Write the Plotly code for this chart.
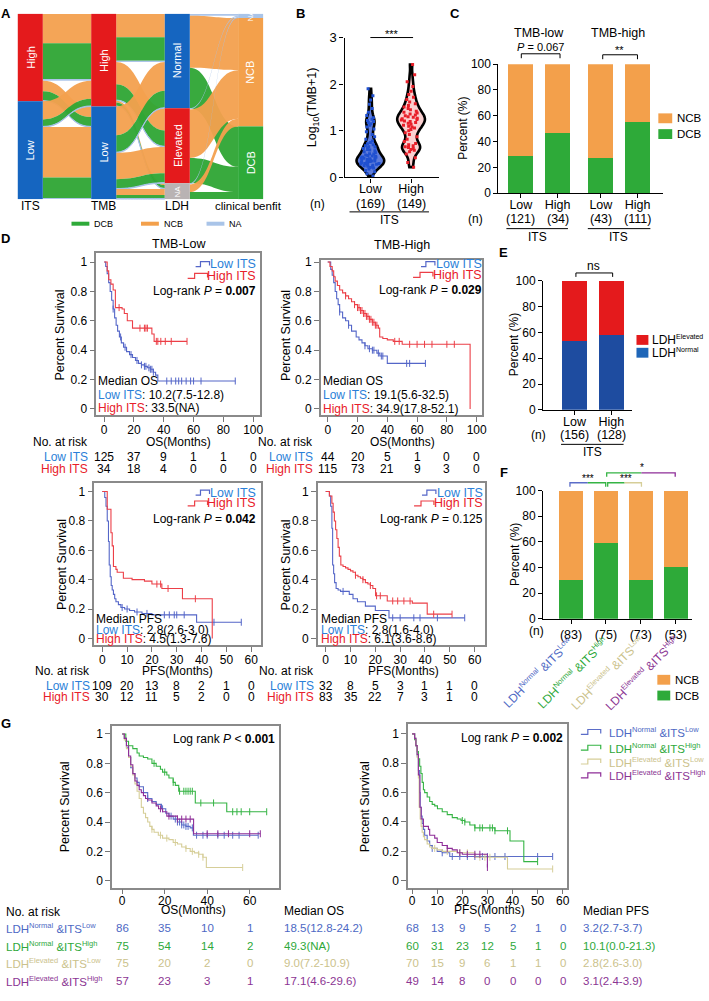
import plotly.graph_objects as go

W, H = 709, 1001
FONT = "Liberation Sans, Arial, Helvetica, sans-serif"


def X(px):
    return px / W


def Y(py):
    return 1 - py / H


def sup(s, size=7.5):
    return f"<sup><span style='font-size:{size}px'>{s}</span></sup>"


# ---------------- colours ----------------
GREEN = "#2EAA39"
ORANGE = "#F3A04B"
NA_BLUE = "#A9C4E8"
RED = "#E41A1C"
BLUE = "#1565C0"
E_BLUE = "#1E4CA0"
LOW_LINE = "#5466C8"
LOW_TXT = "#2B7FD8"
HIGH_LINE = "#EC3F47"
HIGH_TXT = "#E8202A"
G_COL = {"NL": "#5B6DC8", "NH": "#35B444", "EL": "#D6CE98", "EH": "#8E2E98"}
G_TXT = {"NL": "#4D68C4", "NH": "#2EA83A", "EL": "#CBC28C", "EH": "#8B3593"}

# ================= DATA =================
# ---- A: alluvial counts ----
its_nodes = ["High", "Low"]
tmb_nodes = ["High", "Low"]
ldh_nodes = ["Normal", "Elevated", "NA"]
cb_nodes = ["NA", "NCB", "DCB"]
its_tmb_src = ["High", "High", "Low", "Low"]
its_tmb_dst = ["High", "Low", "High", "Low"]
its_tmb_dcb = [61, 16, 12, 35]
its_tmb_ncb = [50, 18, 31, 86]
its_tmb_na = [3, 1, 1, 2]
tmb_ldh_src = ["High", "High", "High", "Low", "Low", "Low"]
tmb_ldh_dst = ["Normal", "Elevated", "NA", "Normal", "Elevated", "NA"]
tmb_ldh_dcb = [40, 27, 6, 29, 16, 6]
tmb_ldh_ncb = [40, 38, 3, 49, 45, 10]
tmb_ldh_na = [2, 1, 1, 1, 1, 1]

# ---- B: log10(TMB+1) by ITS ----
b_groups = ["Low", "High"]
b_n = [169, 149]
b_low_vals = [0.03, 0.08, 0.12, 0.15, 0.18, 0.2, 0.21, 0.23, 0.24, 0.25, 0.26, 0.27, 0.28, 0.29,
              0.3, 0.3, 0.31, 0.32, 0.33, 0.34, 0.35, 0.35, 0.36, 0.37, 0.38, 0.39, 0.4, 0.4, 0.41,
              0.42, 0.43, 0.44, 0.45, 0.46, 0.47, 0.48, 0.5, 0.51, 0.53, 0.55, 0.57, 0.59, 0.6, 0.62,
              0.63, 0.65, 0.66, 0.68, 0.7, 0.72, 0.75, 0.78, 0.82, 0.87, 0.92, 0.98, 1.04, 1.08, 1.12,
              1.15, 1.18, 1.2, 1.22, 1.25, 1.28, 1.33, 1.4, 1.48, 1.57, 1.66, 1.75, 1.9]
b_high_vals = [0.22, 0.32, 0.42, 0.5, 0.55, 0.58, 0.6, 0.62, 0.64, 0.66, 0.68, 0.7, 0.73, 0.77, 0.82,
               0.87, 0.92, 0.96, 1.0, 1.03, 1.06, 1.08, 1.1, 1.12, 1.14, 1.16, 1.18, 1.2, 1.21, 1.23,
               1.24, 1.26, 1.27, 1.29, 1.3, 1.32, 1.34, 1.36, 1.38, 1.4, 1.42, 1.45, 1.48, 1.51, 1.54,
               1.58, 1.62, 1.67, 1.72, 1.78, 1.85, 1.95, 2.05, 2.2, 2.42]

# ---- C: DCB % by TMB group and ITS ----
c_panel = ["TMB-low", "TMB-low", "TMB-high", "TMB-high"]
c_its = ["Low", "High", "Low", "High"]
c_n = [121, 34, 43, 111]
c_dcb = [29, 47, 27, 55]

# ---- E: LDH by ITS ----
e_its = ["Low", "High"]
e_n = [156, 128]
e_normal = [53, 58]

# ---- F: DCB % by LDH x ITS ----
f_keys = ["NL", "NH", "EL", "EH"]
f_ldh = ["Normal", "Normal", "Elevated", "Elevated"]
f_itsl = ["Low", "High", "Low", "High"]
f_n = [83, 75, 73, 53]
f_dcb = [30, 59, 30, 40]

# ---- D: Kaplan-Meier curves ----
dtl_low_t = [0, 1, 2, 3, 4, 5, 6, 7, 8, 9, 10.2, 11.5, 13, 15, 17, 19, 21, 23, 25, 27, 29, 31, 33, 34.5, 36, 88]
dtl_low_s = [1, 0.97, 0.92, 0.86, 0.8, 0.74, 0.68, 0.62, 0.57, 0.53, 0.49, 0.45, 0.42, 0.39, 0.37, 0.35,
             0.33, 0.31, 0.3, 0.29, 0.28, 0.27, 0.25, 0.23, 0.19, 0.19]
dtl_low_c = [6, 11, 14, 18, 22, 25, 27, 28, 30, 31, 32, 33, 42, 45, 48, 50, 52, 55, 58, 60, 65, 88]
dtl_high_t = [0, 2, 3, 4.5, 6, 7.5, 12, 13.5, 15.5, 19, 32, 33.5, 55.6]
dtl_high_s = [1, 0.94, 0.88, 0.85, 0.81, 0.69, 0.68, 0.65, 0.6, 0.55, 0.51, 0.46, 0.46]
dtl_high_c = [10, 24, 27, 28, 29, 35, 36, 38, 41, 45, 55.6]

dtr_low_t = [0, 2, 3, 4, 5, 6, 7, 8, 10, 12, 14, 16, 19.1, 21, 23, 25, 27, 30, 33, 35, 40, 65.6]
dtr_low_s = [1, 0.95, 0.91, 0.86, 0.8, 0.75, 0.71, 0.66, 0.62, 0.6, 0.57, 0.53, 0.49, 0.47, 0.45, 0.43,
             0.41, 0.4, 0.38, 0.36, 0.31, 0.31]
dtr_low_c = [8, 14, 25, 28, 30, 31, 34, 36, 37, 53, 55, 65.6]
dtr_high_t = [0, 1.5, 3, 4, 5, 6.5, 8, 10, 12, 14, 16, 18, 20, 22, 24, 26, 28, 30, 32, 34, 34.9, 37, 40,
              44, 50, 95.6]
dtr_high_s = [1, 0.97, 0.94, 0.9, 0.87, 0.84, 0.81, 0.79, 0.77, 0.75, 0.73, 0.71, 0.69, 0.67, 0.65, 0.63,
              0.61, 0.59, 0.57, 0.55, 0.49, 0.48, 0.47, 0.46, 0.44, 0]
dtr_high_c = [12, 18, 20, 21, 22, 23, 24, 25, 26, 27, 28, 29, 30, 31, 32, 33, 45, 48, 55, 60, 65, 70, 80, 85]

dbl_low_t = [0, 1, 1.5, 2, 2.5, 2.8, 3.2, 3.6, 4, 4.5, 5, 5.5, 6.5, 7.5, 9, 11, 13, 16, 20, 38, 56]
dbl_low_s = [1, 0.96, 0.9, 0.8, 0.66, 0.5, 0.42, 0.36, 0.33, 0.3, 0.27, 0.25, 0.23, 0.21, 0.2, 0.19,
             0.18, 0.17, 0.16, 0.11, 0.11]
dbl_low_c = [8, 10, 14, 18, 25, 27, 29, 30, 33, 45, 56]
dbl_high_t = [0, 2, 3.5, 4, 4.5, 5.5, 6, 8.5, 12, 17, 20, 24, 32.3, 44.3]
dbl_high_s = [1, 0.88, 0.72, 0.63, 0.49, 0.47, 0.45, 0.41, 0.4, 0.39, 0.37, 0.34, 0.27, 0]
dbl_high_c = [22, 23.5, 26.5, 37.5]

dbr_low_t = [0, 1.5, 2, 2.5, 2.8, 3.2, 3.6, 4.2, 5, 6, 9.5, 11, 12.8, 16, 20, 25.5, 56]
dbr_low_s = [1, 0.97, 0.9, 0.75, 0.5, 0.44, 0.38, 0.34, 0.33, 0.32, 0.3, 0.27, 0.25, 0.22, 0.19, 0.14, 0.14]
dbr_low_c = [7, 27, 30, 35.5, 38, 45, 56]
dbr_high_t = [0, 1.5, 2.5, 3, 3.5, 4, 4.5, 5, 5.5, 6.1, 7, 8, 9, 10, 11, 12, 13, 14, 15, 16, 17, 18, 19,
              20.1, 24.8, 34.9, 40.9, 50.9]
dbr_high_s = [1, 0.97, 0.92, 0.86, 0.8, 0.74, 0.68, 0.62, 0.56, 0.5, 0.49, 0.48, 0.47, 0.46, 0.45, 0.43,
              0.42, 0.41, 0.4, 0.38, 0.37, 0.36, 0.34, 0.29, 0.255, 0.24, 0.165, 0.165]
dbr_high_c = [12, 15, 18, 20.5, 22, 27, 29, 31.5, 34, 43.5, 50.9]

d_tl_risk_low = [125, 37, 9, 1, 1, 0]
d_tl_risk_high = [34, 18, 4, 0, 0, 0]
d_tr_risk_low = [44, 20, 5, 1, 0, 0]
d_tr_risk_high = [115, 73, 21, 9, 3, 0]
d_bl_risk_low = [109, 20, 13, 8, 2, 1, 0]
d_bl_risk_high = [30, 12, 11, 5, 2, 0, 0]
d_br_risk_low = [32, 8, 5, 3, 1, 1, 0]
d_br_risk_high = [83, 35, 22, 7, 3, 1, 0]

# ---- G: Kaplan-Meier by LDH x ITS ----
g_os_t = {
    "NL": [0, 1, 2, 3, 4, 5, 6, 7, 8, 10, 12, 14, 16, 18.5, 20.5, 22, 24, 26, 28, 30, 32, 33.5, 64],
    "NH": [0, 1.7, 3, 5, 7, 8, 10, 12, 14, 16, 18, 19, 21, 22, 24, 25, 26.6, 34.4, 49.2, 68],
    "EL": [0, 1, 2, 3, 4, 5, 6, 7, 8, 9, 10, 11, 12, 13, 14, 15, 17, 19, 22, 24, 26, 28, 30, 32, 34, 36,
           38, 39.6, 56.7],
    "EH": [0, 1, 2, 3, 4, 5, 6, 7, 8, 9, 10, 11, 12, 14, 16, 17.1, 19, 21, 26, 33.6, 65],
}
g_os_s = {
    "NL": [1, 0.97, 0.91, 0.84, 0.77, 0.73, 0.7, 0.67, 0.64, 0.6, 0.56, 0.54, 0.52, 0.49, 0.46, 0.44, 0.42,
           0.4, 0.38, 0.37, 0.36, 0.31, 0.31],
    "NH": [1, 0.95, 0.92, 0.9, 0.87, 0.85, 0.84, 0.83, 0.8, 0.78, 0.76, 0.74, 0.72, 0.7, 0.67, 0.65, 0.61,
           0.53, 0.47, 0.47],
    "EL": [1, 0.96, 0.9, 0.84, 0.78, 0.72, 0.66, 0.61, 0.56, 0.5, 0.46, 0.43, 0.4, 0.37, 0.35, 0.33, 0.31,
           0.29, 0.28, 0.26, 0.25, 0.23, 0.22, 0.2, 0.19, 0.18, 0.16, 0.09, 0.09],
    "EH": [1, 0.97, 0.92, 0.85, 0.79, 0.73, 0.68, 0.65, 0.62, 0.6, 0.58, 0.56, 0.55, 0.53, 0.51, 0.49,
           0.47, 0.44, 0.42, 0.32, 0.32],
}
g_os_c = {
    "NL": [12, 19, 23, 25, 26, 27, 28, 29, 30, 31, 33, 35, 38, 40, 45, 48, 52, 55, 64],
    "NH": [15, 20, 24, 27, 29, 30, 31, 32, 33, 37, 43, 52, 54, 56, 60, 68],
    "EL": [14, 18, 21, 25, 30, 33, 36, 38, 56.7],
    "EH": [18, 22, 26, 28, 30, 32, 40, 45, 50, 60, 65],
}
g_pfs_t = {
    "NL": [0, 1, 1.5, 2, 2.5, 3, 3.2, 3.6, 4, 4.5, 5, 6, 7, 8, 10, 12, 15, 56],
    "NH": [0, 1, 1.5, 2, 2.5, 3, 3.5, 4, 4.5, 5, 6, 7, 8, 9, 10.1, 12, 14, 16, 18, 19.5, 21, 23, 25, 33,
           39, 44.5, 50],
    "EL": [0, 1, 1.5, 2, 2.5, 2.8, 3.2, 3.6, 4, 4.5, 5, 6, 7, 8, 10, 12, 18, 25, 38, 56],
    "EH": [0, 1, 1.5, 2, 2.5, 3.1, 3.6, 4.5, 6.5, 7, 9, 10, 12, 14, 16, 18, 20, 30],
}
g_pfs_s = {
    "NL": [1, 0.97, 0.92, 0.85, 0.75, 0.6, 0.5, 0.44, 0.39, 0.35, 0.31, 0.27, 0.24, 0.22, 0.2, 0.19,
           0.165, 0.165],
    "NH": [1, 0.96, 0.92, 0.88, 0.83, 0.78, 0.73, 0.67, 0.62, 0.6, 0.57, 0.54, 0.52, 0.51, 0.49, 0.47,
           0.45, 0.43, 0.42, 0.41, 0.4, 0.38, 0.36, 0.34, 0.27, 0.13, 0.13],
    "EL": [1, 0.97, 0.92, 0.84, 0.7, 0.5, 0.42, 0.37, 0.33, 0.3, 0.28, 0.25, 0.23, 0.22, 0.21, 0.2, 0.19,
           0.16, 0.08, 0.08],
    "EH": [1, 0.97, 0.92, 0.86, 0.72, 0.5, 0.42, 0.37, 0.35, 0.31, 0.29, 0.26, 0.24, 0.22, 0.21, 0.19,
           0.18, 0.09],
}
g_pfs_c = {
    "NL": [8, 12, 16, 19, 22, 25, 28, 30, 33, 37, 50, 56],
    "NH": [20, 21, 25, 27, 28, 31, 32, 33, 38, 50],
    "EL": [9, 14, 19, 22, 27, 29, 31, 56],
    "EH": [14, 19, 22, 25, 27, 30],
}
g_os_risk = {"NL": [86, 35, 10, 1], "NH": [75, 54, 14, 2], "EL": [75, 20, 2, 0], "EH": [57, 23, 3, 1]}
g_pfs_risk = {"NL": [68, 13, 9, 5, 2, 1, 0], "NH": [60, 31, 23, 12, 5, 1, 0],
              "EL": [70, 15, 9, 6, 1, 1, 0], "EH": [49, 14, 8, 0, 0, 0, 0]}
g_median_os = ["18.5(12.8-24.2)", "49.3(NA)", "9.0(7.2-10.9)", "17.1(4.6-29.6)"]
g_median_pfs = ["3.2(2.7-3.7)", "10.1(0.0-21.3)", "2.8(2.6-3.0)", "3.1(2.4-3.9)"]

f_labels = [f"LDH{sup(l)} &ITS{sup(i)}" for l, i in zip(f_ldh, f_itsl)]

# ================= FIGURE =================
fig = go.Figure()
ann = []
shapes = []
layout_axes = {}
AXSPEC = {}


def txt(x, y, s, size=12, color="black", xa="center", ya="middle", angle=0, xref="paper"):
    ann.append(dict(x=(X(x) if xref == "paper" else x), y=Y(y), xref=xref, yref="paper", text=s,
                    showarrow=False, xanchor=xa, yanchor=ya, textangle=angle, borderpad=0,
                    font=dict(family=FONT, size=size, color=color)))


def path(points, color="black", width=1.2):
    p = "M " + " L ".join(f"{X(a):.5f},{Y(b):.5f}" for a, b in points)
    shapes.append(dict(type="path", path=p, xref="paper", yref="paper", line=dict(color=color, width=width)))


def rect(x0, y0, x1, y1, color):
    shapes.append(dict(type="rect", xref="paper", yref="paper", x0=X(x0), x1=X(x1), y0=Y(y1), y1=Y(y0),
                       fillcolor=color, line=dict(width=0)))


def add_axes(k, xd, yd, xr, yr, km=False, xtv=None, xtt=None, ytv=None, ytt=None, xstand=0, xfs=12):
    s = "" if k == 1 else str(k)
    AXSPEC[k] = (xd, xr)
    common = dict(showgrid=False, zeroline=False, showline=True, ticks="outside", fixedrange=True,
                  tickfont=dict(family=FONT, size=12, color="black"))
    if km:
        common.update(linecolor="#8a8a8a", linewidth=1.5, mirror=True, tickcolor="#777777", ticklen=5,
                      tickwidth=1.2)
    else:
        common.update(linecolor="black", linewidth=1.3, tickcolor="black", ticklen=4, tickwidth=1.2)
    xa = dict(common, domain=[X(xd[0]), X(xd[1])], range=xr, anchor="y" + s,
              tickfont=dict(family=FONT, size=xfs, color="black"))
    if xstand:
        xa["ticklabelstandoff"] = xstand
    ya = dict(common, domain=[Y(yd[1]), Y(yd[0])], range=yr, anchor="x" + s)
    if xtv is not None:
        xa.update(tickmode="array", tickvals=xtv)
        if xtt is not None:
            xa["ticktext"] = xtt
    if ytv is not None:
        ya.update(tickmode="array", tickvals=ytv)
        if ytt is not None:
            ya["ticktext"] = ytt
    layout_axes["xaxis" + s] = xa
    layout_axes["yaxis" + s] = ya
    return "x" + s, "y" + s


def data_px(k, v):
    xd, xr = AXSPEC[k]
    return xd[0] + (v - xr[0]) / (xr[1] - xr[0]) * (xd[1] - xd[0])


def surv_at(ts, ss, t):
    v = ss[0]
    for ti, si in zip(ts, ss):
        if ti <= t:
            v = si
        else:
            break
    return v


def km(ts, ss, cens, color, xa, ya):
    fig.add_trace(go.Scatter(x=ts, y=ss, mode="lines", line=dict(shape="hv", color=color, width=1.1),
                             xaxis=xa, yaxis=ya, hoverinfo="skip", showlegend=False))
    fig.add_trace(go.Scatter(x=cens, y=[surv_at(ts, ss, c) for c in cens], mode="markers",
                             marker=dict(symbol="line-ns", size=5, color=color, line=dict(color=color, width=1)),
                             xaxis=xa, yaxis=ya, hoverinfo="skip", showlegend=False))


def step_icon(x_end, y, color, w=15):
    x0 = x_end - w
    path([(x0, y + 2.5), (x0 + 0.35 * w, y + 2.5), (x0 + 0.35 * w, y - 2.5), (x_end, y - 2.5),
          (x_end, y + 1.5)], color=color, width=1.2)


SURV_T = [0, 0.2, 0.4, 0.6, 0.8, 1]
SURV_L = ["0", "0.2", "0.4", "0.6", "0.8", "1"]

# ---------------- Panel A : alluvial (sankey) ----------------
n_its, n_tmb, n_ldh = len(its_nodes), len(tmb_nodes), len(ldh_nodes)
idx_its = {n: i for i, n in enumerate(its_nodes)}
idx_tmb = {n: n_its + i for i, n in enumerate(tmb_nodes)}
idx_ldh = {n: n_its + n_tmb + i for i, n in enumerate(ldh_nodes)}
idx_cb = {n: n_its + n_tmb + n_ldh + i for i, n in enumerate(cb_nodes)}
link_col = {"DCB": "rgba(46,165,52,0.95)", "NCB": "rgba(243,160,78,0.95)", "NA": "rgba(168,194,232,0.95)"}
src, dst, val, col = [], [], [], []
its_tot = {n: 0 for n in its_nodes}
tmb_tot = {n: 0 for n in tmb_nodes}
ldh_tot = {n: 0 for n in ldh_nodes}
ldh_out = {n: {"DCB": 0, "NCB": 0, "NA": 0} for n in ldh_nodes}
for s_, d_, dc, nc, na in zip(its_tmb_src, its_tmb_dst, its_tmb_dcb, its_tmb_ncb, its_tmb_na):
    for o, v in (("NCB", nc), ("DCB", dc), ("NA", na)):
        if v:
            src.append(idx_its[s_]); dst.append(idx_tmb[d_]); val.append(v); col.append(link_col[o])
            its_tot[s_] += v
            tmb_tot[d_] += v
for s_, d_, dc, nc, na in zip(tmb_ldh_src, tmb_ldh_dst, tmb_ldh_dcb, tmb_ldh_ncb, tmb_ldh_na):
    for o, v in (("NCB", nc), ("DCB", dc), ("NA", na)):
        if v:
            src.append(idx_tmb[s_]); dst.append(idx_ldh[d_]); val.append(v); col.append(link_col[o])
            ldh_tot[d_] += v
            ldh_out[d_][o] += v
cb_tot = {n: 0 for n in cb_nodes}
for n in ldh_nodes:
    for o in cb_nodes:
        v = ldh_out[n][o]
        if v:
            src.append(idx_ldh[n]); dst.append(idx_cb[o]); val.append(v); col.append(link_col[o])
            cb_tot[o] += v
total = sum(its_tot.values())


def centers(levels, tot):
    out, cum = [], 0
    for n in levels:
        out.append((cum + tot[n] / 2) / total)
        cum += tot[n]
    return out


col_x = [0.0506, 0.35, 0.65, 0.949]
node_x = [col_x[0]] * n_its + [col_x[1]] * n_tmb + [col_x[2]] * n_ldh + [col_x[3]] * len(cb_nodes)
node_y = centers(its_nodes, its_tot) + centers(tmb_nodes, tmb_tot) + centers(ldh_nodes, ldh_tot) + \
    centers(cb_nodes, cb_tot)
node_col = [RED, BLUE, RED, BLUE, BLUE, RED, "#B9B3B3", NA_BLUE, ORANGE, GREEN]
SK_X0, SK_X1, SK_Y0, SK_Y1 = 18, 265, 7, 195
fig.add_trace(go.Sankey(
    domain=dict(x=[X(SK_X0), X(SK_X1)], y=[Y(SK_Y1), Y(SK_Y0)]),
    arrangement="fixed", hoverinfo="none",
    node=dict(x=node_x, y=node_y, pad=0, thickness=25, color=node_col, line=dict(width=0)),
    link=dict(source=src, target=dst, value=val, color=col, line=dict(width=0)),
))
node_names = its_nodes + tmb_nodes + ldh_nodes + cb_nodes
for nm, nx, ny in zip(node_names, node_x, node_y):
    px = SK_X0 + nx * (SK_X1 - SK_X0)
    py = SK_Y0 + ny * (SK_Y1 - SK_Y0)
    txt(px, py, nm, size=(8 if nm == "NA" else 11), color="white", angle=-90)
for lab, cx in zip(["ITS", "TMB", "LDH"], col_x[:3]):
    txt(SK_X0 + cx * (SK_X1 - SK_X0), 202, lab, size=12)
txt(250, 202, "clinical benfit", size=11.5)
for lab, x0, c in (("DCB", 72, GREEN), ("NCB", 142, ORANGE), ("NA", 208, NA_BLUE)):
    shapes.append(dict(type="line", xref="paper", yref="paper", x0=X(x0), x1=X(x0 + 18), y0=Y(220),
                       y1=Y(220), line=dict(color=c, width=4)))
    txt(x0 + 22, 220, lab, size=9, xa="left")

# ---------------- Panel B : violins ----------------
xb, yb = add_axes(1, (347, 442), (31, 173), [-0.634, 1.683], [0, 3],
                  xtv=[0, 1], xtt=b_groups, ytv=[0, 1, 2, 3], xstand=-5, xfs=12.5)
layout_axes["yaxis"]["tickfont"] = dict(family=FONT, size=13, color="black")
for i, (vals, fc, mc) in enumerate([(b_low_vals, "rgba(40,80,205,0.75)", "#2050D0"),
                                    (b_high_vals, "rgba(250,200,200,0.85)", "#E8202A")]):
    fig.add_trace(go.Violin(x=[i] * len(vals), y=vals, width=0.68, points="all", pointpos=0, jitter=0.75,
                            spanmode="hard", bandwidth=0.09, scalemode="width",
                            line=dict(color="black", width=2.6), fillcolor=fc,
                            marker=dict(color=mc, size=3, symbol="square"),
                            xaxis=xb, yaxis=yb, hoverinfo="skip", showlegend=False))
for i, n in enumerate(b_n):
    txt(i, 200, f"({n})", size=12.5, xref=xb)
txt(316, 102, "Log<sub>10</sub>(TMB+1)", size=12.5, angle=-90)
txt(320, 200, "(n)", size=12)
path([(352, 208), (432, 208)], width=1)
txt(392, 216, "ITS", size=12)
path([(373, 31), (416, 31)], width=1)
txt(395, 27, "***", size=11)

# ---------------- Panel C : stacked bars ----------------
c_x = [i + (0.18 if p == "TMB-high" else 0) for i, p in enumerate(c_panel)]
xc, yc = add_axes(2, (502, 668), (58, 189), [-0.61, 3.88], [0, 100],
                  xtv=c_x, xtt=c_its, ytv=[0, 20, 40, 60, 80, 100], xstand=-4, xfs=12.5)
fig.add_trace(go.Bar(x=c_x, y=c_dcb, width=0.68, marker=dict(color=GREEN, line=dict(width=0)),
                     xaxis=xc, yaxis=yc, hoverinfo="skip", showlegend=False))
fig.add_trace(go.Bar(x=c_x, y=[100 - v for v in c_dcb], width=0.68, marker=dict(color=ORANGE, line=dict(width=0)),
                     xaxis=xc, yaxis=yc, hoverinfo="skip", showlegend=False))
for xv, n in zip(c_x, c_n):
    txt(xv, 215, f"({n})", size=12.5, xref=xc)
txt(466, 123, "Percent (%)", size=12, angle=-90)
txt(543, 26, "TMB-low", size=12.5)
txt(622, 26, "TMB-high", size=12.5)
path([(525, 52), (525, 47.5), (564, 47.5), (564, 52)], width=1)
txt(544, 41, "<i>P</i> = 0.067", size=11)
path([(607, 53), (607, 48.5), (642, 48.5), (642, 53)], width=1)
txt(624, 44, "**", size=11)
txt(479, 215, "(n)", size=12)
path([(510, 225), (572, 225)], width=1)
path([(592, 225), (655, 225)], width=1)
txt(541, 234, "ITS", size=12)
txt(623, 234, "ITS", size=12)
rect(663, 108, 677, 118, ORANGE)
txt(681, 113, "NCB", size=11.5, xa="left")
rect(663, 124, 677, 134, GREEN)
txt(681, 129, "DCB", size=11.5, xa="left")

# ---------------- Panel D : KM ----------------
d_specs = [
    dict(k=3, xd=(97, 262), yd=(250, 414), xr=[-5.3, 104.7], yr=[-0.04, 1.06], xt=[0, 20, 40, 60, 80, 100],
         curves=((dtl_low_t, dtl_low_s, dtl_low_c), (dtl_high_t, dtl_high_s, dtl_high_c)),
         title="TMB-Low", tx=180, ty=241, right=259, ly=(261, 273), lr_y=288,
         lr="Log-rank <i>P</i> = <b>0.007</b>", med_x=98, med_y=(380, 394, 407), med_title="Median OS",
         med=("10.2(7.5-12.8)", "33.5(NA)"), ytx=60, yty=333, xtitle="OS(Months)", xtx=180, rowy=(442, 457, 469),
         rl=90, risk=(d_tl_risk_low, d_tl_risk_high)),
    dict(k=4, xd=(323, 485), yd=(257, 414), xr=[-4.7, 103.3], yr=[-0.04, 1.013], xt=[0, 20, 40, 60, 80, 100],
         curves=((dtr_low_t, dtr_low_s, dtr_low_c), (dtr_high_t, dtr_high_s, dtr_high_c)),
         title="TMB-High", tx=405, ty=242, right=486, ly=(261, 272), lr_y=287,
         lr="Log-rank <i>P</i> = <b>0.029</b>", med_x=324, med_y=(380, 394, 408), med_title="Median OS",
         med=("19.1(5.6-32.5)", "34.9(17.8-52.1)"), ytx=288, yty=333, xtitle="OS(Months)", xtx=405,
         rowy=(442, 457, 469), rl=316, risk=(d_tr_risk_low, d_tr_risk_high)),
    dict(k=5, xd=(95, 263), yd=(483, 648), xr=[-3.2, 64], yr=[-0.047, 1.06], xt=[0, 10, 20, 30, 40, 50, 60],
         curves=((dbl_low_t, dbl_low_s, dbl_low_c), (dbl_high_t, dbl_high_s, dbl_high_c)),
         title=None, right=259, ly=(493, 504), lr_y=520,
         lr="Log-rank <i>P</i> = <b>0.042</b>", med_x=96, med_y=(621, 632, 642), med_title="Median PFS",
         med=("2.8(2.6-3.0)", "4.5(1.3-7.6)"), ytx=62, yty=566, xtitle="PFS(Months)", xtx=179,
         rowy=(674, 689, 701), rl=92, risk=(d_bl_risk_low, d_bl_risk_high)),
    dict(k=6, xd=(320, 488), yd=(483, 648), xr=[-3.2, 64], yr=[-0.047, 1.06], xt=[0, 10, 20, 30, 40, 50, 60],
         curves=((dbr_low_t, dbr_low_s, dbr_low_c), (dbr_high_t, dbr_high_s, dbr_high_c)),
         title=None, right=487, ly=(493, 504), lr_y=520,
         lr="Log-rank <i>P</i> = 0.125", med_x=322, med_y=(621, 632, 642), med_title="Median PFS",
         med=("2.8(1.6-4.0)", "6.1(3.6-8.6)"), ytx=288, yty=566, xtitle="PFS(Months)", xtx=406,
         rowy=(674, 689, 701), rl=317, risk=(d_br_risk_low, d_br_risk_high)),
]
for sp in d_specs:
    xa, ya = add_axes(sp["k"], sp["xd"], sp["yd"], sp["xr"], sp["yr"], km=True, xtv=sp["xt"],
                      ytv=SURV_T, ytt=SURV_L, xstand=-2)
    (lt, ls, lc), (ht, hs, hc) = sp["curves"]
    km(lt, ls, lc, LOW_LINE, xa, ya)
    km(ht, hs, hc, HIGH_LINE, xa, ya)
    if sp["title"]:
        txt(sp["tx"], sp["ty"], sp["title"], size=12.5)
    txt(sp["right"], sp["ly"][0], "Low ITS", size=12.5, color=LOW_TXT, xa="right")
    txt(sp["right"], sp["ly"][1], "High ITS", size=12.5, color=HIGH_TXT, xa="right")
    step_icon(sp["right"] - 48, sp["ly"][0], LOW_LINE, w=14)
    step_icon(sp["right"] - 50, sp["ly"][1], HIGH_LINE, w=20)
    txt(sp["right"], sp["lr_y"], sp["lr"], size=12, xa="right")
    txt(sp["med_x"], sp["med_y"][0], sp["med_title"], size=12, xa="left")
    txt(sp["med_x"], sp["med_y"][1], f"<span style='color:{LOW_TXT}'>Low ITS</span>: {sp['med'][0]}",
        size=12, xa="left")
    txt(sp["med_x"], sp["med_y"][2], f"<span style='color:{HIGH_TXT}'>High ITS</span>: {sp['med'][1]}",
        size=12, xa="left")
    txt(sp["ytx"], sp["yty"], "Percent Survival", size=12.5, angle=-90)
    txt(sp["xtx"], sp["rowy"][0], sp["xtitle"], size=12)
    txt(sp["rl"], sp["rowy"][0], "No. at risk", size=12, xa="right")
    txt(sp["rl"], sp["rowy"][1], "Low ITS", size=12, color=LOW_TXT, xa="right")
    txt(sp["rl"], sp["rowy"][2], "High ITS", size=12, color=HIGH_TXT, xa="right")
    for row, ry in ((sp["risk"][0], sp["rowy"][1]), (sp["risk"][1], sp["rowy"][2])):
        for tv, n in zip(sp["xt"], row):
            txt(tv, ry, str(n), size=12, xref=xa)

# ---------------- Panel E : LDH by ITS ----------------
e_x = list(range(len(e_its)))
xe, ye = add_axes(7, (547, 636), (278, 409), [-0.85, 1.55], [0, 100],
                  xtv=e_x, xtt=e_its, ytv=[0, 20, 40, 60, 80, 100], xstand=-4, xfs=12.5)
fig.add_trace(go.Bar(x=e_x, y=e_normal, width=0.68, marker=dict(color=E_BLUE, line=dict(width=0)),
                     xaxis=xe, yaxis=ye, hoverinfo="skip", showlegend=False))
fig.add_trace(go.Bar(x=e_x, y=[100 - v for v in e_normal], width=0.68, marker=dict(color=RED, line=dict(width=0)),
                     xaxis=xe, yaxis=ye, hoverinfo="skip", showlegend=False))
for xv, n in zip(e_x, e_n):
    txt(xv, 435, f"({n})", size=12.5, xref=xe)
txt(518, 343, "Percent (%)", size=12, angle=-90)
path([(580, 274), (580, 270), (617, 270), (617, 274)], width=1)
txt(598, 263, "ns", size=12)
rect(641, 333, 653, 343, RED)
txt(656, 338, "LDH" + sup("Elevated", 7), size=12, xa="left")
rect(641, 346, 653, 356, "#1E66B8")
txt(656, 351, "LDH" + sup("Normal", 7), size=12, xa="left")
txt(542, 435, "(n)", size=12)
path([(565, 444), (628, 444)], width=1)
txt(597, 452, "ITS", size=12)

# ---------------- Panel F : DCB by LDH x ITS ----------------
f_x = list(range(len(f_keys)))
xf, yf = add_axes(8, (547, 697), (491, 621), [-0.8, 3.47], [0, 100],
                  xtv=f_x, xtt=[f"({n})" for n in f_n], ytv=[0, 20, 40, 60, 80, 100], xfs=12.5)
fig.add_trace(go.Bar(x=f_x, y=f_dcb, width=0.68, marker=dict(color=GREEN, line=dict(width=0)),
                     xaxis=xf, yaxis=yf, hoverinfo="skip", showlegend=False))
fig.add_trace(go.Bar(x=f_x, y=[100 - v for v in f_dcb], width=0.68, marker=dict(color=ORANGE, line=dict(width=0)),
                     xaxis=xf, yaxis=yf, hoverinfo="skip", showlegend=False))
txt(518, 556, "Percent (%)", size=12, angle=-90)
txt(540, 633, "(n)", size=12)
for i, (k, lab) in enumerate(zip(f_keys, f_labels)):
    txt(data_px(8, i) - 33, 676, lab, size=12, color=G_TXT[k], angle=-45)
# significance brackets
path([(574, 487), (574, 483), (592, 483)], color=G_COL["NL"], width=1.3)
path([(592, 483), (610, 483), (610, 487)], color=G_COL["NH"], width=1.3)
txt(592, 479, "***", size=10)
path([(612, 487), (612, 483), (629, 483)], color=G_COL["NH"], width=1.3)
path([(629, 483), (646, 483), (646, 487)], color="#D6CE98", width=1.3)
txt(630, 479, "***", size=10)
path([(611, 477), (611, 473), (646, 473)], color=G_COL["NH"], width=1.3)
path([(646, 473), (680, 473), (680, 477)], color=G_COL["EH"], width=1.3)
txt(647, 468, "*", size=10)
rect(662, 678, 675, 688, ORANGE)
txt(679, 683, "NCB", size=11.5, xa="left")
rect(662, 694, 675, 704, GREEN)
txt(679, 699, "DCB", size=11.5, xa="left")

# ---------------- Panel G : KM by LDH x ITS ----------------
xg1, yg1 = add_axes(9, (113, 281), (730, 894), [-4.7, 73.8], [-0.047, 1.054], km=True, xtv=[0, 20, 40, 60],
                    ytv=SURV_T, ytt=SURV_L, xstand=-4)
xg2, yg2 = add_axes(10, (411, 571), (728, 894), [-1.6, 61.7], [-0.047, 1.067], km=True,
                    xtv=[0, 10, 20, 30, 40, 50, 60], ytv=SURV_T, ytt=SURV_L, xstand=-4)
for k in f_keys:
    km(g_os_t[k], g_os_s[k], g_os_c[k], G_COL[k], xg1, yg1)
    km(g_pfs_t[k], g_pfs_s[k], g_pfs_c[k], G_COL[k], xg2, yg2)
txt(278, 743, "Log rank <i>P</i> < <b>0.001</b>", size=12, xa="right")
txt(568, 742, "Log rank <i>P</i> = <b>0.002</b>", size=12, xa="right")
txt(65, 812, "Percent Survival", size=12.5, angle=-90)
txt(367, 812, "Percent Survival", size=12.5, angle=-90)
for (k, lab), ly in zip(zip(f_keys, f_labels), (736, 752, 766, 780)):
    step_icon(605, ly, G_COL[k], w=20)
    txt(612, ly, lab, size=11.5, color=G_TXT[k], xa="left")
txt(5, 919, "No. at risk", size=12, xa="left")
txt(195, 917, "OS(Months)", size=12)
txt(285, 918, "Median OS", size=12, xa="left")
txt(493, 917, "PFS(Months)", size=12)
txt(586, 918, "Median PFS", size=12, xa="left")
os_ticks = [0, 20, 40, 60]
pfs_ticks = [0, 10, 20, 30, 40, 50, 60]
for i, (k, ry) in enumerate(zip(f_keys, (935, 953, 971, 989))):
    txt(5, ry, f_labels[i], size=11.5, color=G_TXT[k], xa="left")
    for tv, n in zip(os_ticks, g_os_risk[k]):
        txt(tv, ry, str(n), size=11.5, color=G_TXT[k], xref=xg1)
    txt(285, ry, g_median_os[i], size=11.5, color=G_TXT[k], xa="left")
    for tv, n in zip(pfs_ticks, g_pfs_risk[k]):
        txt(tv, ry, str(n), size=11.5, color=G_TXT[k], xref=xg2)
    txt(586, ry, g_median_pfs[i], size=11.5, color=G_TXT[k], xa="left")

# ---------------- panel letters ----------------
for lab, lx, ly in (("A", 6, 7), ("B", 303, 7), ("C", 458, 7), ("D", 6, 235), ("E", 507, 249),
                    ("F", 508, 473), ("G", 6, 727)):
    txt(lx, ly, f"<b>{lab}</b>", size=13)

fig.update_layout(
    width=W, height=H, margin=dict(l=0, r=0, t=0, b=0), paper_bgcolor="white", plot_bgcolor="white",
    showlegend=False, barmode="stack", violinmode="overlay", font=dict(family=FONT, color="black"),
    annotations=ann, shapes=shapes, **layout_axes,
)
fig.write_html("out.html", config={"displayModeBar": False},
               post_script="document.body.style.margin='0px';")
